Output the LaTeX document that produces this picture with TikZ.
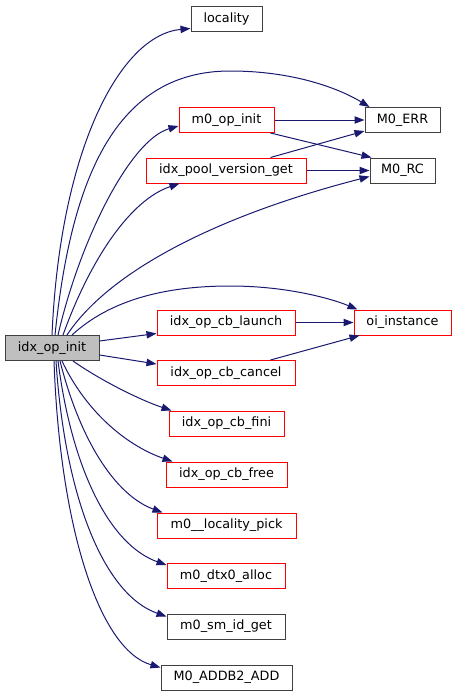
\documentclass[tikz,border=0pt]{standalone}
\usepackage{fontspec}
\setmainfont{DejaVu Sans}
\usetikzlibrary{arrows.meta,calc}
\definecolor{edgeblue}{HTML}{191970}
\definecolor{boxgray}{HTML}{404040}
\definecolor{rootfill}{HTML}{BFBFBF}
\tikzset{
  fn/.style={rectangle, inner sep=0pt, minimum height=18.75pt, line width=0.75pt, font=\fontsize{9.6}{11}\selectfont},
  redbox/.style={fn, draw=red},
  blkbox/.style={fn, draw=boxgray},
  rootbox/.style={fn, draw=boxgray, fill=rootfill},
  call/.style={draw=edgeblue, line width=0.75pt, -{Triangle[length=7.5pt,width=5.5pt]}, fill=none},
}
\begin{document}
\begin{tikzpicture}[x=0.75pt,y=-0.75pt]
\useasboundingbox (0,0) rectangle (456,696);
% nodes
\node[rootbox, minimum width=70.5pt]  (root)   at (52,348)    {idx\_op\_init};
\node[blkbox,  minimum width=53.25pt] (loc)    at (226.5,18.5) {locality};
\node[redbox,  minimum width=71.25pt] (opinit) at (226.5,120) {m0\_op\_init};
\node[redbox,  minimum width=120pt]   (pool)   at (226,170.5) {idx\_pool\_version\_get};
\node[blkbox,  minimum width=56.25pt] (err)    at (402.5,120) {M0\_ERR};
\node[blkbox,  minimum width=48.75pt] (rc)     at (402.5,170.5) {M0\_RC};
\node[redbox,  minimum width=103.5pt] (launch) at (226,322.5) {idx\_op\_cb\_launch};
\node[redbox,  minimum width=72.75pt] (oi)     at (402.5,322.5) {oi\_instance};
\node[redbox,  minimum width=103.5pt] (cancel) at (226,373)   {idx\_op\_cb\_cancel};
\node[redbox,  minimum width=86.25pt] (fini)   at (226.5,423.5) {idx\_op\_cb\_fini};
\node[redbox,  minimum width=90.75pt] (free)   at (226.5,474.5) {idx\_op\_cb\_free};
\node[redbox,  minimum width=104.25pt] (pick)  at (226.5,525.5) {m0\_\_locality\_pick};
\node[redbox,  minimum width=88.5pt]  (alloc)  at (226,576)   {m0\_dtx0\_alloc};
\node[blkbox,  minimum width=88.5pt]  (smid)   at (226,626.5) {m0\_sm\_id\_get};
\node[blkbox,  minimum width=98.25pt] (addb)   at (226.5,677.5) {M0\_ADDB2\_ADD};
% edges from root, upwards
\draw[call] ($(root.north)+(0,0)$) .. controls (60,150) and (120,35) .. ($(loc.south west)+(0,-3)$);
\draw[call] ($(root.north)+(3,0)$) .. controls (70,190) and (110,71) .. (230,71) .. controls (300,71) and (345,92) .. ($(err.north west)+(5,0)$);
\draw[call] ($(root.north)+(6,0)$) .. controls (80,240) and (130,140) .. ($(opinit.west)+(0,6)$);
\draw[call] ($(root.north)+(11,0)$) .. controls (90,260) and (130,200) .. ($(pool.south west)+(34,0)$);
\draw[call] ($(root.north)+(15,0)$) .. controls (110,270) and (220,215) .. ($(rc.west)+(0,6)$);
\draw[call] ($(root.north)+(20,0)$) .. controls (110,300) and (165,286) .. (230,286) .. controls (290,286) and (335,300) .. ($(oi.north west)+(4,0)$);
% sideways
\draw[call] ($(root.east)+(0,-7)$) -- ($(launch.south west)+(0,-2)$);
\draw[call] ($(root.east)+(0,7)$) -- ($(cancel.north west)+(0,4)$);
% downwards
\draw[call] ($(root.south)+(21,0)$) .. controls (100,380) and (140,400) .. ($(fini.north west)+(3,0)$);
\draw[call] ($(root.south)+(10,0)$) .. controls (85,410) and (125,445) .. ($(free.north west)+(7,0)$);
\draw[call] ($(root.south)+(8,0)$) .. controls (80,440) and (115,495) .. ($(pick.north west)+(6,0)$);
\draw[call] ($(root.south)+(6,0)$) .. controls (72,470) and (110,545) .. ($(alloc.north west)+(0,2)$);
\draw[call] ($(root.south)+(4,0)$) .. controls (65,500) and (105,595) .. ($(smid.north west)+(0,3)$);
\draw[call] ($(root.south)+(2,0)$) .. controls (60,530) and (100,650) .. ($(addb.north west)+(0,3)$);
% second level
\draw[call] (opinit.east) -- (err.west);
\draw[call] ($(opinit.south east)+(-4,0)$) -- ($(rc.north west)+(2,0)$);
\draw[call] ($(pool.north east)+(-36,0)$) -- ($(err.south west)+(0,-2)$);
\draw[call] (pool.east) -- (rc.west);
\draw[call] (launch.east) -- (oi.west);
\draw[call] ($(cancel.north east)+(-25,0)$) -- ($(oi.south west)+(6,0)$);
\end{tikzpicture}
\end{document}
